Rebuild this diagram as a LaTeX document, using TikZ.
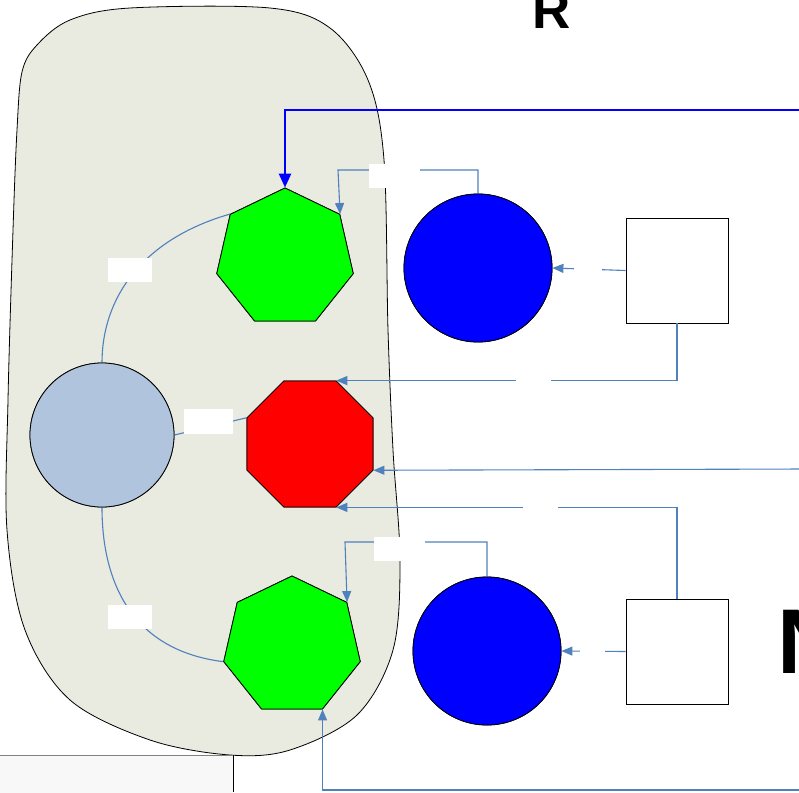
\documentclass[tikz,border=0pt]{standalone}
\usepackage{fontspec}
\setmainfont{Liberation Sans}
\usetikzlibrary{shapes.geometric,arrows.meta}
\definecolor{blobfill}{RGB}{233,234,224}
\definecolor{conncol}{RGB}{79,129,189}
\definecolor{lightc}{RGB}{176,196,222}
\definecolor{boxfill}{RGB}{248,248,248}
\tikzset{
  conn/.style={draw=conncol, line width=1.1pt, -{Triangle[length=11pt,width=9pt]}},
  plainconn/.style={draw=conncol, line width=1.1pt},
  hept/.style={regular polygon, regular polygon sides=7, minimum size=140pt, inner sep=0pt, fill={rgb,255:red,0;green,255;blue,0}, draw=black, line width=0.8pt},
  octa/.style={regular polygon, regular polygon sides=8, minimum size=136.4pt, inner sep=0pt, fill={rgb,255:red,255;green,0;blue,0}, draw=black, line width=0.8pt},
  bluecirc/.style={circle, minimum size=148pt, inner sep=0pt, fill={rgb,255:red,0;green,0;blue,255}, draw=black, line width=0.8pt},
  lightcirc/.style={circle, minimum size=144pt, inner sep=0pt, fill=lightc, draw=black, line width=0.8pt},
  whitebox/.style={rectangle, minimum width=102pt, minimum height=105pt, inner sep=0pt, fill=white, draw=black, line width=0.8pt},
  lbl/.style={rectangle, fill=white, inner sep=0pt, minimum height=24pt},
}
\begin{document}
\begin{tikzpicture}[x=1pt,y=-1pt]
\path[use as bounding box] (0,0) rectangle (799,792);
\clip (0,0) rectangle (799,792);
% blob
\draw[fill=blobfill, line width=0.8pt] plot[smooth cycle, tension=0.55] coordinates {
 (17,130) (22,72) (37,45) (70,20) (130,8) (270,8) (330,28) (368,80) (384,160)
 (388,330) (393,450) (400,560) (393,650) (357,715) (290,750) (230,755)
 (150,740) (70,700) (25,630) (7,530) (8,400) (13,230)};
% bottom-left box
\fill[boxfill] (0,755) rectangle (233,800);
\draw[gray, line width=1pt] (0,755) -- (233,755);
\draw[black, line width=0.8pt] (233,755) -- (233,792);
% texts
\node[anchor=base, inner sep=0pt, font=\fontsize{53}{60}\selectfont\bfseries] (R) at (552,29) {R};
\node[anchor=base west, inner sep=0pt, font=\fontsize{92}{100}\selectfont\bfseries] (N) at (777,673) {N};
% shapes
\node[hept] (g1) at (285,258) {};
\node[hept] (g2) at (292,646) {};
\node[octa] (o) at (310,444) {};
\node[bluecirc] (c1) at (478,268) {};
\node[bluecirc] (c2) at (487,651) {};
\node[lightcirc] (lc) at (102,435) {};
\node[whitebox] (b1) at (677,270.5) {};
\node[whitebox] (b2) at (677,651.5) {};
% free ends
\coordinate (eTop) at (805,110);
\coordinate (eMid) at (805,469);
\coordinate (eBot) at (805,790);
% connectors
\draw[draw=blue, line width=2.6pt, -{Triangle[length=14pt,width=12pt]}] (eTop) -| (g1.corner 1);
\draw[conn] (c1.north) |- (338,170) -- (g1.corner 7);
\draw[conn] (b1.west) -- (c1.east);
\draw[conn] (b1.south) |- (o.corner 1);
\draw[conn] (eMid) -- (o.corner 7);
\draw[conn] (b2.north) |- (o.corner 6);
\draw[conn] (c2.north) |- (345,542) -- (g2.corner 7);
\draw[conn] (b2.west) -- (c2.east);
\draw[conn] (eBot) -| (g2.corner 5);
\draw[plainconn] (lc.north) .. controls (102,300) and (140,240) .. (g1.corner 2);
\draw[plainconn] (lc.south) .. controls (102,580) and (130,650) .. (g2.corner 3);
\draw[plainconn] (lc.east) -- (o.corner 3);
% redraw shapes over line ends
\node[hept] at (285,258) {};
\node[hept] at (292,646) {};
\node[octa] at (310,444) {};
\node[bluecirc] at (478,268) {};
\node[bluecirc] at (487,651) {};
\node[lightcirc] at (102,435) {};
% labels
\node[lbl, minimum width=44pt] (l1) at (130,270) {};
\node[lbl, minimum width=49pt, minimum height=25pt] (l2) at (208.5,421.5) {};
\node[lbl, minimum width=44pt] (l3) at (130,617) {};
\node[lbl, minimum width=51pt] (l4) at (394.5,176) {};
\node[lbl, minimum width=51pt] (l5) at (399.5,549) {};
\node[lbl, minimum width=35pt] (l6) at (533.5,380) {};
\node[lbl, minimum width=35pt] (l7) at (540.5,508) {};
\node[lbl, minimum width=28pt, minimum height=20pt] (l8) at (588,268) {};
\node[lbl, minimum width=25pt, minimum height=20pt] (l9) at (592,652) {};
\end{tikzpicture}
\end{document}
